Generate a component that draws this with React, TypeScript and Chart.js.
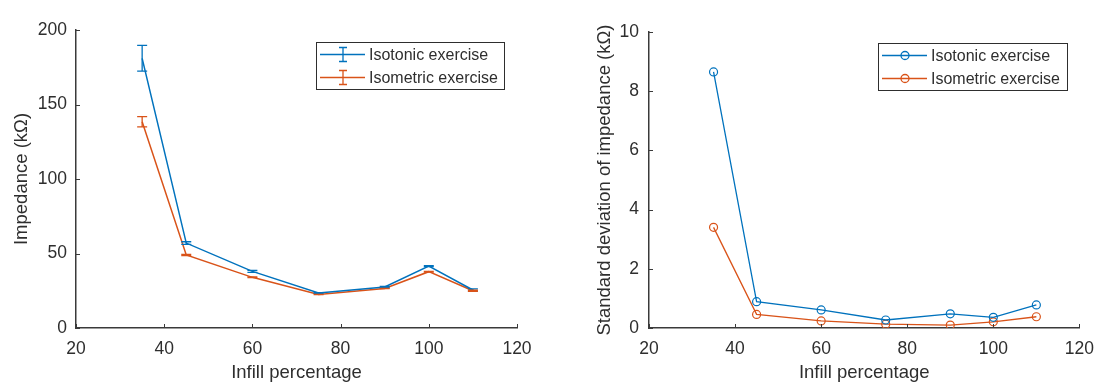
import React, { useEffect, useRef } from 'react';
import { Chart, registerables } from 'chart.js';

Chart.register(...registerables);

const infill = [35, 45, 60, 75, 90, 100, 110];
const isotonicImpedance = [181, 57, 38, 23.5, 27.5, 41.5, 25.5];
const isometricImpedance = [138.4, 49, 34, 22.5, 26.5, 37.8, 25];
const isotonicStd = [8.65, 0.89, 0.61, 0.27, 0.48, 0.36, 0.78];
const isometricStd = [3.4, 0.46, 0.24, 0.13, 0.1, 0.21, 0.38];
const xTicks = [20, 40, 60, 80, 100, 120];
const impedanceTicks = [0, 50, 100, 150, 200];
const stdTicks = [0, 2, 4, 6, 8, 10];
const seriesLabels = ['Isotonic exercise', 'Isometric exercise'];

const BLUE = '#0072BD';
const ORANGE = '#D95319';
const TEXT = '#2e2e2e';
const AXIS = '#3a3a3a';
const FONT = '"Liberation Sans", Arial, Helvetica, sans-serif';
const TICK_SIZE = 17.5;
const TITLE_SIZE = 18.5;

Chart.defaults.font.family = FONT;

const inwardTicks = {
  id: 'inwardTicks',
  afterDraw(chart: any) {
    const { ctx, chartArea, scales } = chart;
    ctx.save();
    ctx.strokeStyle = AXIS;
    ctx.lineWidth = 1;
    scales.x.ticks.forEach((t: any) => {
      const px = Math.round(scales.x.getPixelForValue(t.value)) + 0.5;
      ctx.beginPath();
      ctx.moveTo(px, chartArea.bottom);
      ctx.lineTo(px, chartArea.bottom - 4);
      ctx.stroke();
    });
    scales.y.ticks.forEach((t: any) => {
      const py = Math.round(scales.y.getPixelForValue(t.value)) + 0.5;
      ctx.beginPath();
      ctx.moveTo(chartArea.left, py);
      ctx.lineTo(chartArea.left + 4, py);
      ctx.stroke();
    });
    ctx.restore();
  },
};

const errorBars = {
  id: 'errorBars',
  afterDatasetsDraw(chart: any) {
    const { ctx, scales } = chart;
    chart.data.datasets.forEach((ds: any) => {
      if (!ds.errors) return;
      ctx.save();
      ctx.strokeStyle = ds.borderColor;
      ctx.lineWidth = 1.3;
      ds.data.forEach((p: any, i: number) => {
        const e = ds.errors[i];
        const px = scales.x.getPixelForValue(p.x);
        const yTop = scales.y.getPixelForValue(p.y + e);
        const yBot = scales.y.getPixelForValue(p.y - e);
        ctx.beginPath();
        ctx.moveTo(px, yTop);
        ctx.lineTo(px, yBot);
        ctx.moveTo(px - 5, yTop);
        ctx.lineTo(px + 5, yTop);
        ctx.moveTo(px - 5, yBot);
        ctx.lineTo(px + 5, yBot);
        ctx.stroke();
      });
      ctx.restore();
    });
  },
};

const boxLegend = {
  id: 'boxLegend',
  afterDraw(chart: any, _args: any, opts: any) {
    const { ctx, chartArea } = chart;
    const w = opts.w;
    const h = opts.h;
    const x0 = Math.round(chartArea.right - opts.dx - w);
    const y0 = Math.round(chartArea.top + opts.dy);
    ctx.save();
    ctx.fillStyle = '#ffffff';
    ctx.fillRect(x0, y0, w, h);
    ctx.strokeStyle = TEXT;
    ctx.lineWidth = 1;
    ctx.strokeRect(x0 + 0.5, y0 + 0.5, w, h);
    chart.data.datasets.forEach((ds: any, i: number) => {
      const cy = y0 + 12.5 + i * 23;
      const mx = x0 + 27;
      ctx.strokeStyle = ds.borderColor;
      ctx.lineWidth = 1.3;
      ctx.beginPath();
      ctx.moveTo(x0 + 4, cy);
      ctx.lineTo(x0 + 49, cy);
      ctx.stroke();
      if (opts.marker === 'errorbar') {
        ctx.beginPath();
        ctx.moveTo(mx, cy - 7);
        ctx.lineTo(mx, cy + 7);
        ctx.moveTo(mx - 4, cy - 7);
        ctx.lineTo(mx + 4, cy - 7);
        ctx.moveTo(mx - 4, cy + 7);
        ctx.lineTo(mx + 4, cy + 7);
        ctx.stroke();
      } else {
        ctx.beginPath();
        ctx.arc(mx, cy, 4, 0, Math.PI * 2);
        ctx.stroke();
      }
      ctx.fillStyle = TEXT;
      ctx.font = `16px ${FONT}`;
      ctx.textBaseline = 'middle';
      ctx.textAlign = 'left';
      ctx.fillText(ds.label, x0 + 53, cy + 1);
    });
    ctx.restore();
  },
};

function setTicks(values: number[]) {
  return (scale: any) => {
    scale.ticks = values.map((v) => ({ value: v }));
  };
}

function makeConfig(opts: {
  datasets: any[];
  yMax: number;
  yTicks: number[];
  yTitle: string;
  yTitlePad: number;
  yTickPad: number;
  yWidth: number;
  padTop: number;
  padRight: number;
  legend: any;
}) {
  return {
    type: 'line' as const,
    data: { datasets: opts.datasets },
    options: {
      animation: false as const,
      responsive: false,
      maintainAspectRatio: false,
      layout: { padding: { top: opts.padTop, right: opts.padRight, left: 0, bottom: 0 } },
      plugins: {
        legend: { display: false },
        tooltip: { enabled: false },
        boxLegend: opts.legend,
      },
      scales: {
        x: {
          type: 'linear' as const,
          min: 20,
          max: 120,
          afterBuildTicks: setTicks(xTicks),
          afterFit: (s: any) => {
            s.height = 57;
          },
          grid: { display: false, drawTicks: false },
          border: { display: true, color: AXIS, width: 1.5 },
          ticks: { padding: 11, color: TEXT, font: { size: TICK_SIZE } },
          title: {
            display: true,
            text: 'Infill percentage',
            color: TEXT,
            font: { size: TITLE_SIZE },
            padding: { top: 0, bottom: 0.9 },
          },
        },
        y: {
          type: 'linear' as const,
          min: 0,
          max: opts.yMax,
          afterBuildTicks: setTicks(opts.yTicks),
          afterFit: (s: any) => {
            s.width = opts.yWidth;
          },
          grid: { display: false, drawTicks: false },
          border: { display: true, color: AXIS, width: 1.5 },
          ticks: { padding: opts.yTickPad, color: TEXT, font: { size: TICK_SIZE } },
          title: {
            display: true,
            text: opts.yTitle,
            color: TEXT,
            font: { size: TITLE_SIZE },
            padding: { top: opts.yTitlePad, bottom: 0 },
          },
        },
      },
    },
    plugins: [errorBars, inwardTicks, boxLegend],
  };
}

const toPoints = (ys: number[]) => infill.map((x, i) => ({ x, y: ys[i] }));

export default function App() {
  const leftRef = useRef<HTMLCanvasElement>(null);
  const rightRef = useRef<HTMLCanvasElement>(null);

  useEffect(() => {
    document.body.style.margin = '0';
    const left = new Chart(
      leftRef.current as HTMLCanvasElement,
      makeConfig({
        datasets: [
          {
            label: seriesLabels[0],
            data: toPoints(isotonicImpedance),
            errors: isotonicStd,
            borderColor: BLUE,
            borderWidth: 1.5,
            pointRadius: 0,
            tension: 0,
            fill: false,
          },
          {
            label: seriesLabels[1],
            data: toPoints(isometricImpedance),
            errors: isometricStd,
            borderColor: ORANGE,
            borderWidth: 1.5,
            pointRadius: 0,
            tension: 0,
            fill: false,
          },
        ],
        yMax: 200,
        yTicks: impedanceTicks,
        yTitle: 'Impedance (kΩ)',
        yTitlePad: 10.9,
        yTickPad: 9,
        yWidth: 76,
        padTop: 30,
        padRight: 35,
        legend: { marker: 'errorbar', w: 188, h: 47, dx: 13, dy: 12 },
      }) as any
    );
    const right = new Chart(
      rightRef.current as HTMLCanvasElement,
      makeConfig({
        datasets: [
          {
            label: seriesLabels[0],
            data: toPoints(isotonicStd),
            borderColor: BLUE,
            borderWidth: 1.3,
            pointRadius: 4,
            pointStyle: 'circle',
            pointBorderColor: BLUE,
            pointBackgroundColor: 'rgba(0,0,0,0)',
            pointBorderWidth: 1.2,
            tension: 0,
            fill: false,
          },
          {
            label: seriesLabels[1],
            data: toPoints(isometricStd),
            borderColor: ORANGE,
            borderWidth: 1.3,
            pointRadius: 4,
            pointStyle: 'circle',
            pointBorderColor: ORANGE,
            pointBackgroundColor: 'rgba(0,0,0,0)',
            pointBorderWidth: 1.2,
            tension: 0,
            fill: false,
          },
        ],
        yMax: 10,
        yTicks: stdTicks,
        yTitle: 'Standard deviation of impedance (kΩ)',
        yTitlePad: 41.9,
        yTickPad: 10,
        yWidth: 97,
        padTop: 32,
        padRight: 17,
        legend: { marker: 'circle', w: 189, h: 47, dx: 12, dy: 11 },
      }) as any
    );
    return () => {
      left.destroy();
      right.destroy();
    };
  }, []);

  return (
    <div style={{ position: 'relative', width: 1105, height: 385, background: '#fff' }}>
      <canvas
        ref={leftRef}
        width={552}
        height={385}
        style={{ position: 'absolute', left: 0, top: 0, width: 552, height: 385 }}
      />
      <canvas
        ref={rightRef}
        width={553}
        height={385}
        style={{ position: 'absolute', left: 552, top: 0, width: 553, height: 385 }}
      />
    </div>
  );
}
